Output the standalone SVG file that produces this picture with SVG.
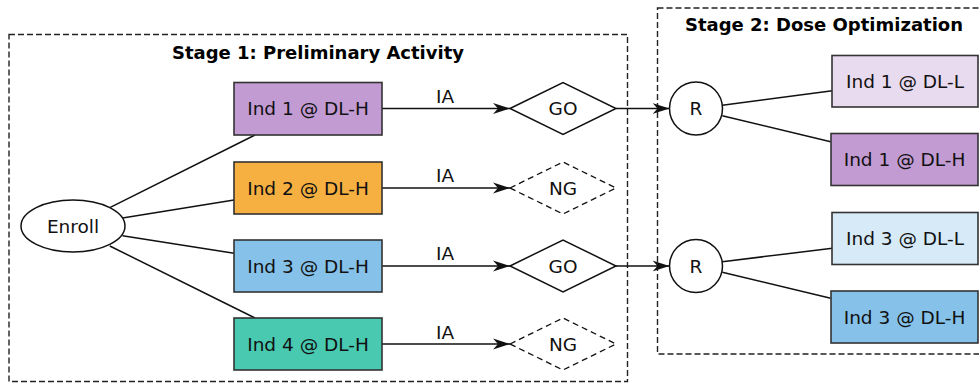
<svg xmlns="http://www.w3.org/2000/svg" width="979" height="383" viewBox="0 0 979 383">
<defs>
<style>
.txt{font-family:"DejaVu Sans",Verdana,sans-serif;font-size:18.5px;fill:#111;text-anchor:middle}
.title{font-family:"DejaVu Sans",Verdana,sans-serif;font-size:18px;font-weight:bold;fill:#000;text-anchor:middle}
.box{stroke:#333;stroke-width:1.6}
.stage{fill:none;stroke:#222;stroke-width:1.4;stroke-dasharray:6 3}
.edge{fill:none;stroke:#111;stroke-width:1.5}
.shape{fill:#fff;stroke:#111;stroke-width:1.5}
.dash{fill:#fff;stroke:#111;stroke-width:1.3;stroke-dasharray:6 4}
</style>
<marker id="arr" markerUnits="userSpaceOnUse" markerWidth="17" markerHeight="12" viewBox="0 0 17 12" refX="17" refY="6" orient="auto">
<path d="M0,0.5 L17,6 L0,11.5 L5,6 Z" fill="#111"/>
</marker>
</defs>
<rect width="979" height="383" fill="#fff"/>

<g id="stage1">
<rect class="stage" x="9" y="34.5" width="618.5" height="347"/>
<text class="title" x="318" y="59">Stage 1: Preliminary Activity</text>
</g>
<g id="stage2">
<rect class="stage" x="657.5" y="8" width="330" height="346"/>
<text class="title" x="824" y="31">Stage 2: Dose Optimization</text>
</g>

<g id="connectors">
<line class="edge" x1="109.8" y1="207.6" x2="255" y2="135"/>
<line class="edge" x1="122.5" y1="218" x2="234" y2="200"/>
<line class="edge" x1="122.5" y1="235.7" x2="234" y2="253.3"/>
<line class="edge" x1="109.8" y1="246" x2="255" y2="318"/>
<line class="edge" x1="382" y1="108.5" x2="510" y2="108.5" marker-end="url(#arr)"/>
<line class="edge" x1="382" y1="188" x2="510" y2="188" marker-end="url(#arr)"/>
<line class="edge" x1="382" y1="266" x2="510" y2="266" marker-end="url(#arr)"/>
<line class="edge" x1="382" y1="344" x2="510" y2="344" marker-end="url(#arr)"/>
<text class="txt" x="445" y="103">IA</text>
<text class="txt" x="445" y="182">IA</text>
<text class="txt" x="445" y="260">IA</text>
<text class="txt" x="445" y="339">IA</text>
<line class="edge" x1="616" y1="108.5" x2="669.5" y2="108.5" marker-end="url(#arr)"/>
<line class="edge" x1="616" y1="266" x2="669.5" y2="266" marker-end="url(#arr)"/>
<line class="edge" x1="722.3" y1="105.3" x2="832.3" y2="90.7"/>
<line class="edge" x1="722.3" y1="115.7" x2="830.7" y2="141.7"/>
<line class="edge" x1="722.3" y1="261.7" x2="832.3" y2="248.3"/>
<line class="edge" x1="722.3" y1="272.3" x2="830.7" y2="298.3"/>
</g>

<g id="enroll">
<ellipse class="shape" cx="73" cy="226" rx="52" ry="26"/>
<text class="txt" x="73" y="232.5">Enroll</text>
</g>

<g id="ind1">
<rect class="box" x="234" y="82.5" width="148" height="52.5" fill="#C39BD3"/>
<text class="txt" x="308" y="115">Ind 1 @ DL-H</text>
</g>
<g id="ind2">
<rect class="box" x="234" y="162" width="148" height="52" fill="#F5B041"/>
<text class="txt" x="308" y="194.5">Ind 2 @ DL-H</text>
</g>
<g id="ind3">
<rect class="box" x="234" y="240" width="148" height="52" fill="#85C1E9"/>
<text class="txt" x="308" y="272.5">Ind 3 @ DL-H</text>
</g>
<g id="ind4">
<rect class="box" x="234" y="318" width="148" height="52" fill="#48C9B0"/>
<text class="txt" x="308" y="350.5">Ind 4 @ DL-H</text>
</g>

<g id="go1">
<polygon class="shape" points="510,108.5 563,82.5 616,108.5 563,134.5"/>
<text class="txt" x="563" y="115">GO</text>
</g>
<g id="ng2">
<polygon class="dash" points="510,188 563,162 616,188 563,214"/>
<text class="txt" x="563" y="194.5">NG</text>
</g>
<g id="go3">
<polygon class="shape" points="510,266 563,240 616,266 563,292"/>
<text class="txt" x="563" y="272.5">GO</text>
</g>
<g id="ng4">
<polygon class="dash" points="510,344 563,318 616,344 563,370"/>
<text class="txt" x="563" y="350.5">NG</text>
</g>

<g id="r1">
<circle class="shape" cx="696" cy="108.5" r="26.5"/>
<text class="txt" x="696" y="115">R</text>
</g>
<g id="r3">
<circle class="shape" cx="696" cy="266" r="26.5"/>
<text class="txt" x="696" y="272.5">R</text>
</g>

<g id="ind1L">
<rect class="box" x="832" y="55.5" width="146" height="51.5" fill="#E8DAEF"/>
<text class="txt" x="905" y="87.5">Ind 1 @ DL-L</text>
</g>
<g id="ind1H">
<rect class="box" x="831" y="133.5" width="147" height="52" fill="#C39BD3"/>
<text class="txt" x="904.5" y="166">Ind 1 @ DL-H</text>
</g>
<g id="ind3L">
<rect class="box" x="832" y="212.5" width="146" height="52" fill="#D6EAF8"/>
<text class="txt" x="905" y="245">Ind 3 @ DL-L</text>
</g>
<g id="ind3H">
<rect class="box" x="831" y="291" width="147" height="52" fill="#85C1E9"/>
<text class="txt" x="904.5" y="323.5">Ind 3 @ DL-H</text>
</g>
</svg>
